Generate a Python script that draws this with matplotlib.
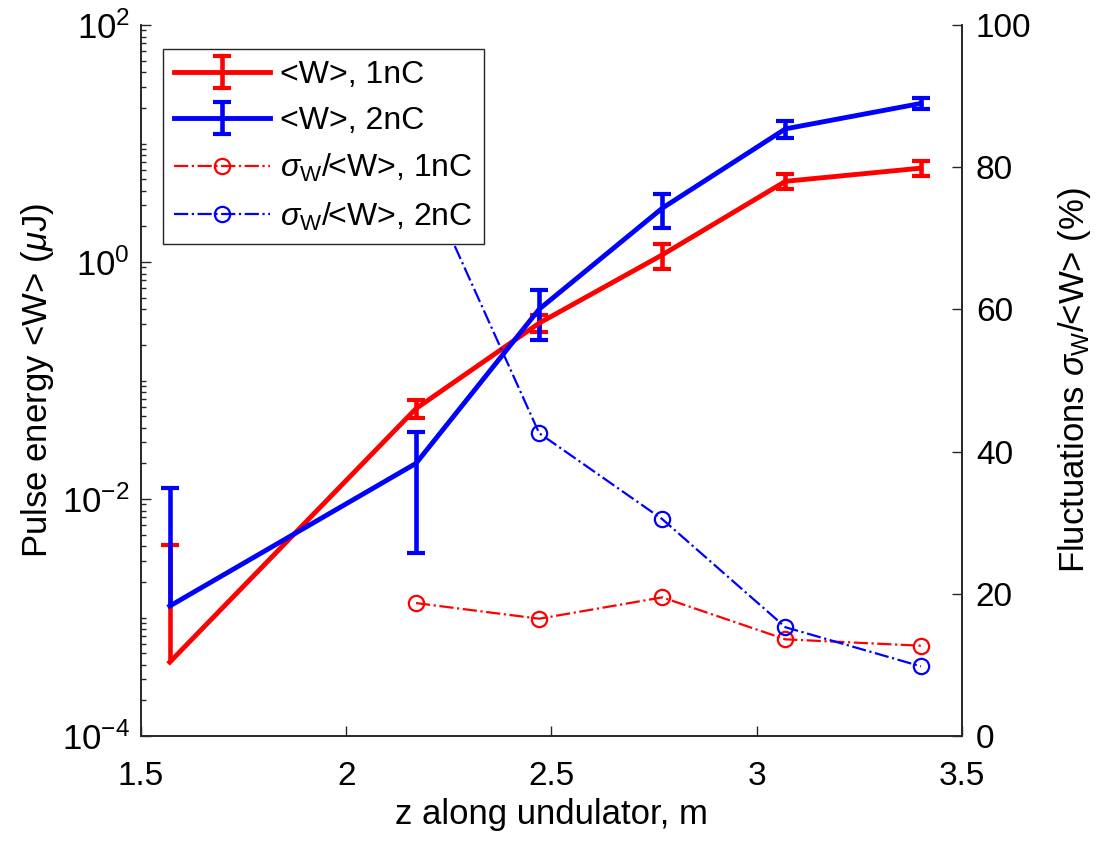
import numpy as np
import matplotlib
matplotlib.use("Agg")
import matplotlib.pyplot as plt
from matplotlib.ticker import FixedLocator, NullFormatter

plt.rcParams['font.family'] = ['Liberation Sans', 'DejaVu Sans']
plt.rcParams['mathtext.fontset'] = 'custom'
plt.rcParams['mathtext.rm'] = 'Liberation Sans'
plt.rcParams['mathtext.it'] = 'Liberation Sans:italic'
plt.rcParams['mathtext.default'] = 'regular'

# positions along undulator (m)
z = np.array([1.57, 2.17, 2.47, 2.77, 3.07, 3.40])

# pulse energy (uJ) and errors
W_1nC = np.array([4.2e-4, 0.058, 0.305, 1.15, 4.8, 6.2])
dW_1nC = np.array([3.7e-3, 0.010, 0.05, 0.27, 0.7, 0.9])
W_2nC = np.array([1.25e-3, 0.020, 0.40, 2.85, 13.3, 21.8])
dW_2nC = np.array([1.12e-2, 0.0165, 0.18, 0.93, 2.2, 2.3])

# fluctuations sigma_W/<W> (%)
z_fl1 = z[1:]
fl_1nC = np.array([18.7, 16.5, 19.5, 13.6, 12.7])
z_fl2 = z[1:]
fl_2nC = np.array([81.0, 42.6, 30.5, 15.3, 9.8])

fig = plt.figure(figsize=(10.99, 8.46), dpi=100)
ax = fig.add_axes([0.1283, 0.130, 0.747, 0.8404])
ax2 = ax.twinx()

axcol = '#262626'
tsz = 24


def draw_eb(axis, x, m, e, col, lab):
    lo = m - e
    ok = lo > 0
    lower = np.where(ok, e, 0.0)
    eb = axis.errorbar(x, m, yerr=[lower, e], color=col, lw=3.5, elinewidth=3.3,
                       capsize=6.5, capthick=3, label=lab)
    # hide caps sitting on the mean when the lower bar is off the log axis
    for cl in eb[1]:
        yd = np.array(cl.get_ydata(), dtype=float)
        yd[np.isclose(yd, m) & ~ok] = np.nan
        cl.set_ydata(yd)
    return eb


h1 = draw_eb(ax, z, W_1nC, dW_1nC, 'red', '<W>, 1nC')
h2 = draw_eb(ax, z, W_2nC, dW_2nC, 'blue', '<W>, 2nC')

ax.set_yscale('log')
ax.set_ylim(1e-4, 1e2)
ax.set_xlim(1.5, 3.5)
ax.yaxis.set_major_locator(FixedLocator([1e-4, 1e-2, 1e0, 1e2]))
minors = [s * 10.0 ** d for d in range(-4, 2) for s in range(1, 10) if not (s == 1 and d % 2 == 0)]
ax.yaxis.set_minor_locator(FixedLocator(minors))
ax.yaxis.set_minor_formatter(NullFormatter())
ax.set_yticklabels(['$10^{-4}$', '$10^{-2}$', '$10^{0}$', '$10^{2}$'])
ax.set_xticks([1.5, 2, 2.5, 3, 3.5])
ax.set_xticklabels(['1.5', '2', '2.5', '3', '3.5'])

l3, = ax2.plot(z_fl1, fl_1nC, '-.', color='red', lw=1.6, marker='o', ms=11,
               mfc='none', mew=1.6, label=r'$\mathit{\sigma}_W$/<W>, 1nC')
l4, = ax2.plot(z_fl2, fl_2nC, '-.', color='blue', lw=1.6, marker='o', ms=11,
               mfc='none', mew=1.6, label=r'$\mathit{\sigma}_W$/<W>, 2nC')
ax2.set_ylim(0, 100)
ax2.set_yticks([0, 20, 40, 60, 80, 100])

for a in (ax, ax2):
    a.spines['top'].set_visible(False)
    for s in a.spines.values():
        s.set_color(axcol)
        s.set_linewidth(1.2)
    a.tick_params(which='both', direction='in', colors=axcol, labelcolor='black',
                  labelsize=tsz, width=1.0)
    a.tick_params(which='major', length=7, pad=8)
    a.tick_params(which='minor', length=3.5)
ax.tick_params(axis='y', which='both', right=False, labelsize=25)
ax.tick_params(axis='x', which='both', top=False, pad=18)
ax2.tick_params(axis='y', which='both', left=False, pad=10)

ax.set_xlabel('z along undulator, m', fontsize=25, labelpad=4)
ax.set_ylabel(r'Pulse energy <W> ($\it{\mu}$J)', fontsize=25, labelpad=4)
ax2.set_ylabel(r'Fluctuations $\mathit{\sigma}_W$/<W> (%)', fontsize=25, labelpad=18)

leg = ax2.legend([h1, h2, l3, l4], [h1.get_label(), h2.get_label(), l3.get_label(), l4.get_label()],
                 loc='upper left', bbox_to_anchor=(0.027, 0.966), borderaxespad=0,
                 fontsize=23, fancybox=False, framealpha=1, edgecolor=axcol,
                 handlelength=3.0, handletextpad=0.3, labelspacing=0.5,
                 borderpad=0.35)
leg.get_frame().set_linewidth(1.0)

fig.savefig('out.png', dpi=100)
